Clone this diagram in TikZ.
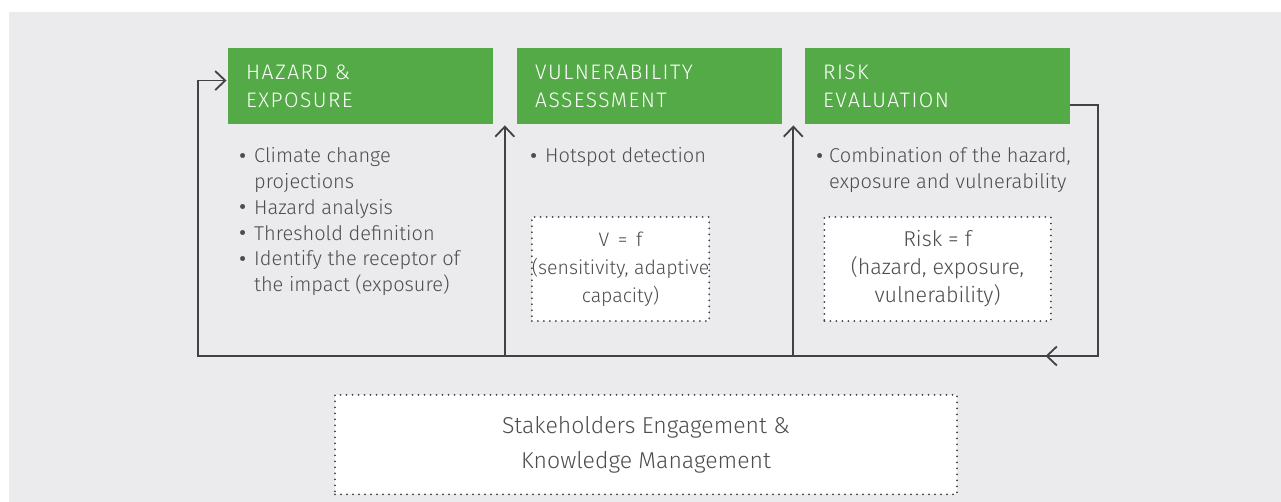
\documentclass[tikz,border=0pt]{standalone}
\usepackage{fontspec}
\IfFontExistsTF{Fira Sans Light}{%
  \setmainfont{Fira Sans Light}\newfontfamily\hdfont{Fira Sans Light}[LetterSpace=7]}{%
  \setmainfont{Fira Sans}\newfontfamily\hdfont{Fira Sans}[LetterSpace=7]}
\newfontfamily\bulfont{Fira Sans}
\usetikzlibrary{arrows.meta}
\definecolor{bg}{HTML}{EBEBED}
\definecolor{grn}{HTML}{55AA48}
\definecolor{ln}{HTML}{424242}
\definecolor{txt}{HTML}{4D4D4D}
\newcommand\bul{\raisebox{-0.05ex}{\bulfont\fontsize{22}{22}\selectfont •}}
\begin{document}
\begin{tikzpicture}[x=1pt,y=-1pt,
  gbox/.style={fill=grn, text=white, anchor=north west, minimum height=75.5pt,
    inner xsep=18pt, inner ysep=0pt, text width=228.5pt, align=left,
    font=\hdfont\fontsize{21}{28}\selectfont},
  body/.style={text=txt, inner sep=0pt, anchor=base west,
    font=\fontsize{20}{25.7}\selectfont},
  dotbox/.style={draw=ln, fill=white, line width=2pt, dash pattern=on 0pt off 6pt,
    line cap=round, text=txt, align=center, inner sep=0pt},
  conn/.style={draw=ln, line width=1.8pt},
  tip/.style={-{Straight Barb[length=10pt,width=19pt]}, shorten >=1.5pt}
]
\useasboundingbox (0,0) rectangle (1281,502);
\fill[bg] (9,12) rectangle (1281,502);

% header boxes
\node[gbox] (haz) at (228,48) {HAZARD \&\\EXPOSURE};
\node[gbox] (vul) at (517,48) {VULNERABILITY\\ASSESSMENT};
\node[gbox] (risk) at (805,48) {RISK\\EVALUATION};

% body texts
\node[body] (hazt) at (239,163) {\begin{tabular}[t]{@{}p{15pt}@{}l@{}}
\bul & Climate change\\
     & projections\\
\bul & Hazard analysis\\
\bul & Threshold definition\\
\bul & Identify the receptor of\\
     & the impact (exposure)
\end{tabular}};
\node[body] (vult) at (530,163) {\begin{tabular}[t]{@{}p{15pt}@{}l@{}}
\bul & Hotspot detection
\end{tabular}};
\node[body] (riskt) at (816,163) {\begin{tabular}[t]{@{}p{13pt}@{}l@{}}
\bul & Combination of the hazard,\\
     & exposure and vulnerability
\end{tabular}};

% dotted formula boxes
\node[dotbox, minimum width=171pt, minimum height=104pt,
  font=\fontsize{19.5}{28}\selectfont] (vf) at (620.5,269)
  {V \,=\, f\\(sensitivity, adaptive\\capacity)};
\node[dotbox, minimum width=226.5pt, minimum height=104pt,
  font=\fontsize{21.5}{28}\selectfont] (rf) at (937.5,269)
  {Risk = f\\(hazard, exposure,\\vulnerability)};
\node[dotbox, minimum width=622pt, minimum height=99.5pt,
  font=\fontsize{23}{34.5}\selectfont] (sk) at (646,444.7)
  {Stakeholders Engagement \&\\Knowledge Management};

% connectors
\coordinate (BL) at (197.7,356);
\coordinate (BR) at (1097.7,356);
\coordinate (A1) at (504.8,356);
\coordinate (A2) at (793.3,356);
\coordinate (AM) at (1044,356);
\draw[conn, tip] ([yshift=-19pt]risk.east) -| (BR) -- (BL) |- ([yshift=5.4pt]haz.west);
\draw[conn, tip] (BR) -- (AM);
\draw[conn, tip] (A1) -- (A1 |- haz.south);
\draw[conn, tip] (A2) -- (A2 |- risk.south);
\end{tikzpicture}
\end{document}
